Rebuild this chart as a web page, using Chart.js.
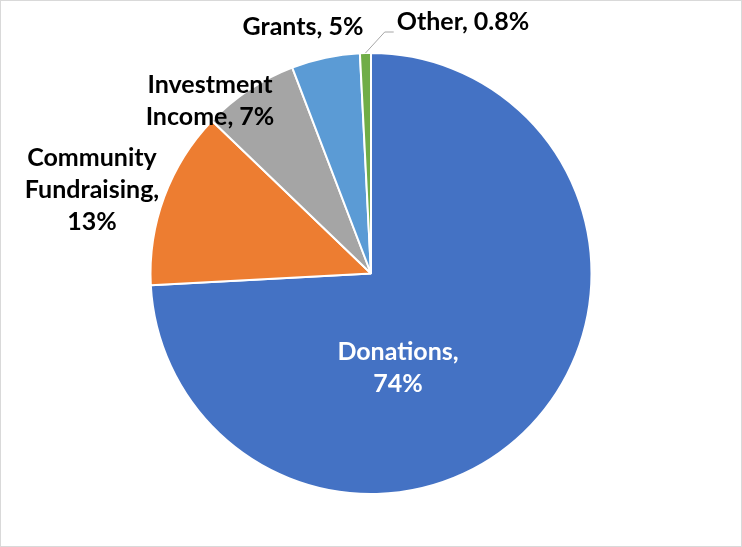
<!DOCTYPE html>
<html>
<head>
<meta charset="utf-8">
<script src="https://cdn.jsdelivr.net/npm/chart.js@4"></script>
<style>
html,body{margin:0;padding:0;background:#fff;}
#wrap{position:relative;width:742px;height:547px;box-sizing:border-box;border:1px solid #d9d9d9;}
canvas{display:block;}
</style>
</head>
<body>
<div id="wrap"><canvas id="c" width="740" height="545"></canvas></div>
<script>
const categories = ["Donations", "Community Fundraising", "Investment Income", "Grants", "Other"];
const values = [74, 13, 7, 5, 0.8];
const valueLabels = ["74%", "13%", "7%", "5%", "0.8%"];
const colors = ["#4472C4", "#ED7D31", "#A5A5A5", "#5B9BD5", "#70AD47"];

// label layout (text lines and anchor positions in canvas px)
const labelLayout = [
  {lines: ["Donations,", "74%"], x: 397, y: 351, color: "#ffffff"},
  {lines: ["Community", "Fundraising,", "13%"], x: 91, y: 157, color: "#000000"},
  {lines: ["Investment", "Income, 7%"], x: 209, y: 84, color: "#000000"},
  {lines: ["Grants, 5%"], x: 302, y: 26, color: "#000000"},
  {lines: ["Other, 0.8%"], x: 462, y: 21, color: "#000000", leader: true}
];

const labelPlugin = {
  id: 'pieLabels',
  afterDatasetsDraw(chart) {
    const ctx = chart.ctx;
    const meta = chart.getDatasetMeta(0);
    ctx.save();
    ctx.font = "bold 25px Lato, 'Open Sans', sans-serif";
    ctx.textAlign = 'center';
    ctx.textBaseline = 'middle';
    labelLayout.forEach((l, i) => {
      ctx.fillStyle = l.color;
      l.lines.forEach((t, j) => ctx.fillText(t, l.x, l.y + j * 32));
      if (l.leader) {
        const arc = meta.data[i];
        const mid = (arc.startAngle + arc.endAngle) / 2;
        const px = arc.x + Math.cos(mid) * arc.outerRadius;
        const py = arc.y + Math.sin(mid) * arc.outerRadius;
        const w = ctx.measureText(l.lines[0]).width;
        const ex = l.x - w / 2 - 3;
        ctx.strokeStyle = '#a6a6a6';
        ctx.lineWidth = 1;
        ctx.beginPath();
        ctx.moveTo(px, py);
        ctx.lineTo(ex - 9, l.y + 10);
        ctx.lineTo(ex, l.y + 10);
        ctx.stroke();
      }
    });
    ctx.restore();
  }
};

new Chart(document.getElementById('c'), {
  type: 'pie',
  data: {
    labels: categories,
    datasets: [{
      data: values,
      backgroundColor: colors,
      borderColor: '#ffffff',
      borderWidth: 2
    }]
  },
  options: {
    responsive: false,
    animation: false,
    layout: {padding: {top: 51, bottom: 51, left: 0, right: 0}},
    plugins: {legend: {display: false}, tooltip: {enabled: false}}
  },
  plugins: [labelPlugin]
});
</script>
</body>
</html>
